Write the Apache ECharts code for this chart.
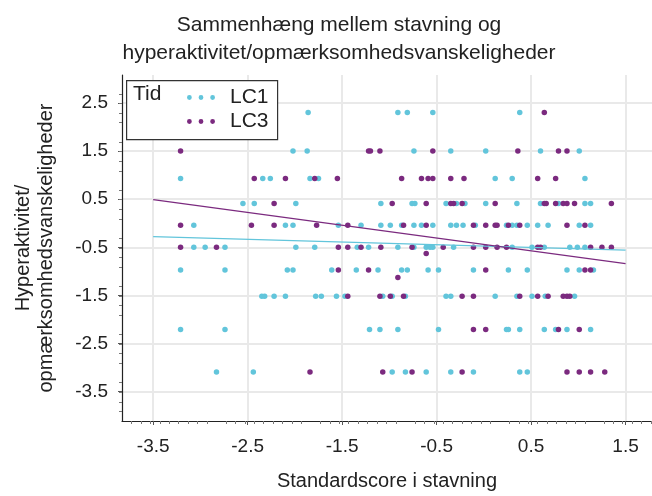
<!DOCTYPE html>
<html>
<head>
<meta charset="utf-8">
<script src="https://cdn.jsdelivr.net/npm/echarts@6/dist/echarts.min.js"></script>
<style>
html,body{margin:0;padding:0;background:#fff;}
#chart{width:652px;height:496px;}
</style>
</head>
<body>
<div id="chart"></div>
<script>
// ---- data ----
const titleLines = ["Sammenhæng mellem stavning og", "hyperaktivitet/opmærksomhedsvanskeligheder"];
const xAxisTitle = "Standardscore i stavning";
const yAxisTitleLines = ["Hyperaktivitet/", "opmærksomhedsvanskeligheder"];
const legendTitle = "Tid";
const seriesNames = ["LC1", "LC3"];
const xTicks = [-3.5, -2.5, -1.5, -0.5, 0.5, 1.5];
const yTicks = [2.5, 1.5, 0.5, -0.5, -1.5, -2.5, -3.5];

// LC1 points [x, y]
const lc1Points = [
  [-1.86,2.3],[-0.91,2.3],[-0.81,2.3],[-0.54,2.3],[0.38,2.3],
  [-2.02,1.5],[-1.87,1.5],[-0.74,1.5],[-0.35,1.5],[0.02,1.5],[0.60,1.5],[1.01,1.5],
  [-3.21,0.93],[-2.34,0.93],[-2.26,0.93],[-1.84,0.93],[-1.75,0.93],[0.12,0.93],[0.30,0.93],[1.07,0.93],
  [-2.55,0.41],[-2.43,0.41],[-1.99,0.41],[-1.09,0.41],[-0.76,0.41],[-0.73,0.41],[-0.40,0.41],[-0.29,0.41],[-0.20,0.41],[0.02,0.41],[0.35,0.41],[0.60,0.41],[0.79,0.41],[1.07,0.41],[1.13,0.41],
  [-3.07,-0.04],[-2.10,-0.04],[-2.02,-0.04],[-1.54,-0.04],[-1.30,-0.04],[-1.09,-0.04],[-0.99,-0.04],[-0.87,-0.04],[-0.74,-0.04],[-0.66,-0.04],[-0.54,-0.04],[-0.35,-0.04],[-0.29,-0.04],[-0.22,-0.04],[-0.09,-0.04],[0.24,-0.04],[0.30,-0.04],[0.35,-0.04],[0.46,-0.04],[0.57,-0.04],[0.68,-0.04],[1.01,-0.04],[1.13,-0.04],
  [-3.07,-0.5],[-2.95,-0.5],[-2.74,-0.5],[-1.99,-0.5],[-1.79,-0.5],[-1.34,-0.5],[-1.22,-0.5],[-0.91,-0.5],[-0.74,-0.5],[-0.61,-0.5],[-0.57,-0.5],[-0.54,-0.5],[-0.32,-0.5],[0.30,-0.5],[0.51,-0.5],[0.64,-0.5],[0.91,-0.5],[0.99,-0.5],[1.07,-0.5],
  [-3.21,-0.97],[-2.74,-0.97],[-2.08,-0.97],[-2.02,-0.97],[-1.61,-0.97],[-1.35,-0.97],[-1.12,-0.97],[-0.87,-0.97],[-0.81,-0.97],[-0.59,-0.97],[-0.48,-0.97],[-0.11,-0.97],[0.26,-0.97],[0.46,-0.97],[0.88,-0.97],[1.01,-0.97],[1.16,-0.97],
  [-2.35,-1.52],[-2.32,-1.52],[-2.22,-1.52],[-2.10,-1.52],[-1.78,-1.52],[-1.72,-1.52],[-1.56,-1.52],[-1.47,-1.52],[-1.07,-1.52],[-0.97,-1.52],[-0.83,-1.52],[-0.40,-1.52],[-0.35,-1.52],[0.12,-1.52],[0.35,-1.52],[0.51,-1.52],[0.65,-1.52],[0.96,-1.52],
  [-3.21,-2.21],[-2.74,-2.21],[-1.21,-2.21],[-1.10,-2.21],[-0.91,-2.21],[-0.48,-2.21],[0.24,-2.21],[0.26,-2.21],[0.38,-2.21],[0.64,-2.21],[0.76,-2.21],[0.88,-2.21],[1.13,-2.21],
  [-2.83,-3.09],[-2.44,-3.09],[-0.97,-3.09],[-0.83,-3.09],[-0.61,-3.09],[-0.35,-3.09],[-0.11,-3.09],[0.38,-3.09],[0.46,-3.09]
];

// LC3 points [x, y]
const lc3Points = [
  [0.64,2.3],
  [-3.21,1.5],[-1.22,1.5],[-1.20,1.5],[-1.10,1.5],[-0.54,1.5],[0.36,1.5],[0.79,1.5],[0.88,1.5],
  [-2.43,0.93],[-2.10,0.93],[-1.79,0.93],[-1.55,0.93],[-0.87,0.93],[-0.66,0.93],[-0.59,0.93],[-0.54,0.93],[-0.35,0.93],[-0.21,0.93],[0.57,0.93],[0.76,0.93],
  [-2.22,0.41],[-0.97,0.41],[-0.61,0.41],[-0.35,0.41],[-0.32,0.41],[-0.23,0.41],[0.12,0.41],[0.64,0.41],[0.66,0.41],[0.76,0.41],[0.84,0.41],[0.88,0.41],[0.96,0.41],[1.35,0.41],
  [-3.21,-0.04],[-2.46,-0.04],[-2.22,-0.04],[-1.77,-0.04],[-1.44,-0.04],[-0.85,-0.04],[-0.61,-0.04],[-0.11,-0.04],[0.02,-0.04],[0.12,-0.04],[0.14,-0.04],[0.26,-0.04],[0.38,-0.04],[0.88,-0.04],[1.07,-0.04],
  [-3.21,-0.5],[-2.83,-0.5],[-1.54,-0.5],[-1.44,-0.5],[-1.30,-0.5],[-1.09,-0.5],[-0.76,-0.5],[-0.43,-0.5],[-0.11,-0.5],[0.02,-0.5],[0.14,-0.5],[0.24,-0.5],[0.57,-0.5],[0.60,-0.5],[1.13,-0.5],[1.25,-0.5],[1.35,-0.5],
  [-0.61,-0.63],
  [-1.54,-0.97],[-1.22,-0.97],[0.02,-0.97],[1.07,-0.97],[1.13,-0.97],
  [-0.91,-1.13],
  [-1.44,-1.52],[-1.10,-1.52],[-0.99,-1.52],[-0.85,-1.52],[-0.23,-1.52],[-0.11,-1.52],[0.38,-1.52],[0.57,-1.52],[0.68,-1.52],[0.84,-1.52],[0.88,-1.52],[0.91,-1.52],
  [-0.11,-2.21],[0.02,-2.21],[0.79,-2.21],[1.01,-2.21],
  [-1.84,-3.09],[-1.07,-3.09],[-0.76,-3.09],[-0.23,-3.09],[0.88,-3.09],[1.01,-3.09],[1.13,-3.09],[1.28,-3.09]
];

// fitted trend lines (endpoints)
const trendX = [-3.5, 1.5];
const lc1Trend = [-0.28, -0.56];
const lc3Trend = [0.49, -0.84];

// ---- styling ----
const cyan = "#62c5db";
const purple = "#7b2a7f";
const FONT = "'Liberation Sans', Arial, sans-serif";
const dotsIcon = 'path://M0,2.4a2.4,2.4 0 1,0 4.8,0a2.4,2.4 0 1,0 -4.8,0Z' +
  'M11.6,2.4a2.4,2.4 0 1,0 4.8,0a2.4,2.4 0 1,0 -4.8,0Z' +
  'M23.2,2.4a2.4,2.4 0 1,0 4.8,0a2.4,2.4 0 1,0 -4.8,0Z';

const chart = echarts.init(document.getElementById('chart'), null, {renderer: 'canvas'});
const option = {
  backgroundColor: '#fff',
  animation: false,
  title: {
    text: titleLines.join('\n'),
    left: 334, top: 6, textAlign: 'center',
    textStyle: {fontFamily: FONT, fontSize: 21, fontWeight: 'normal', color: '#222', lineHeight: 28}
  },
  grid: {left: 122, right: 0, top: 75, bottom: 71, containLabel: false},
  legend: {
    orient: 'vertical', left: 182, top: 82, itemWidth: 28, itemHeight: 5, itemGap: 3,
    icon: dotsIcon, z: 100,
    data: seriesNames,
    textStyle: {fontFamily: FONT, fontSize: 21, color: '#222', padding: [0, 0, 0, 10]}
  },
  graphic: [
    {type: 'rect', left: 126, top: 80, shape: {width: 151, height: 59}, style: {fill: '#fff', stroke: '#333', lineWidth: 1.2}, z: 90},
    {type: 'text', left: 133, top: 84, style: {text: legendTitle, font: '21px ' + FONT, fill: '#222'}, z: 91}
  ],
  xAxis: {
    type: 'value', min: -3.83, max: 1.78, interval: 1,
    name: xAxisTitle, nameLocation: 'middle', nameGap: 50,
    nameTextStyle: {fontFamily: FONT, fontSize: 20, color: '#222'},
    axisLine: {show: true, onZero: false, lineStyle: {color: '#222', width: 1.2}},
    axisTick: {show: true, length: 4, lineStyle: {color: '#555'}, customValues: xTicks},
    minorTick: {show: true, splitNumber: 10, length: 3, lineStyle: {color: '#777'}},
    axisLabel: {fontFamily: FONT, fontSize: 19, color: '#222', margin: 16, customValues: xTicks,
      formatter: v => String(v)},
    splitLine: {show: true, lineStyle: {color: '#e9e9e9', width: 2}},
    minorSplitLine: {show: false}
  },
  yAxis: {
    type: 'value', min: -4.11, max: 3.08, interval: 1,
    name: yAxisTitleLines.join('\n'), nameLocation: 'middle', nameGap: 64, nameRotate: 90,
    nameTextStyle: {fontFamily: FONT, fontSize: 20, color: '#222', lineHeight: 23},
    axisLine: {show: true, onZero: false, lineStyle: {color: '#222', width: 1.2}},
    axisTick: {show: true, length: 4, lineStyle: {color: '#555'}, customValues: yTicks},
    minorTick: {show: true, splitNumber: 5, length: 3, lineStyle: {color: '#777'}},
    axisLabel: {fontFamily: FONT, fontSize: 19, color: '#222', margin: 14, customValues: yTicks,
      formatter: v => String(v)},
    splitLine: {show: true, lineStyle: {color: '#e9e9e9', width: 2}},
    minorSplitLine: {show: false}
  },
  series: [
    {
      name: seriesNames[0], type: 'scatter', symbol: 'circle', symbolSize: 5.5,
      itemStyle: {color: cyan, opacity: 1}, data: lc1Points, z: 3
    },
    {
      name: seriesNames[1], type: 'scatter', symbol: 'circle', symbolSize: 5.5,
      itemStyle: {color: purple, opacity: 1}, data: lc3Points, z: 4
    },
    {
      name: 'LC1 trend', type: 'line', showSymbol: false, silent: true,
      data: trendX.map((x, i) => [x, lc1Trend[i]]),
      lineStyle: {color: cyan, width: 1.2}, z: 5
    },
    {
      name: 'LC3 trend', type: 'line', showSymbol: false, silent: true,
      data: trendX.map((x, i) => [x, lc3Trend[i]]),
      lineStyle: {color: purple, width: 1.2}, z: 5
    }
  ]
};
chart.setOption(option);
</script>
</body>
</html>
